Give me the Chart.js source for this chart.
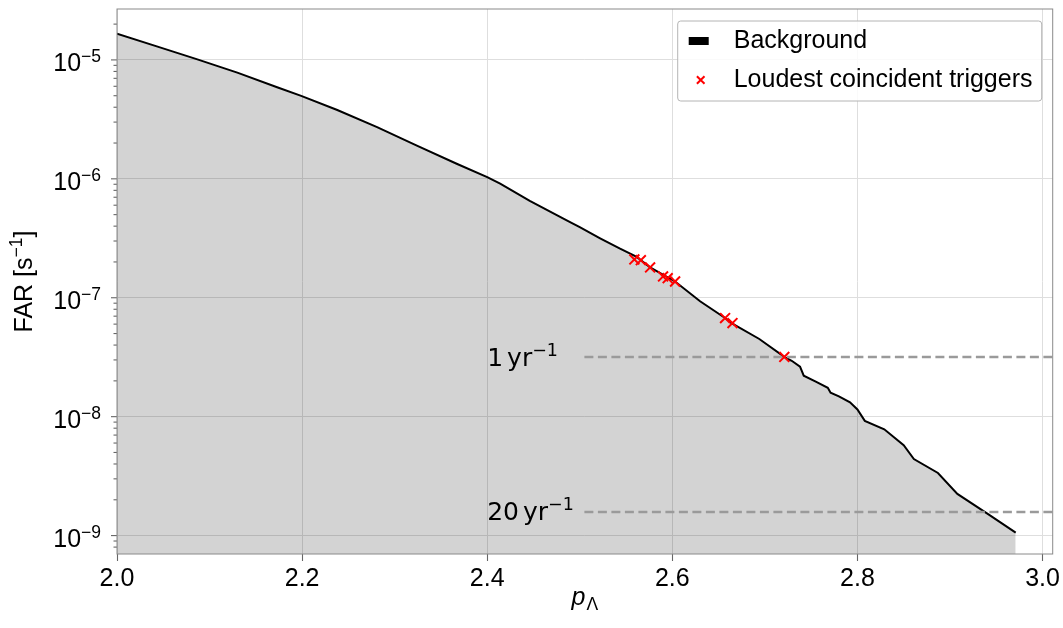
<!DOCTYPE html>
<html>
<head>
<meta charset="utf-8">
<script src="https://cdn.jsdelivr.net/npm/chart.js@4.4.0/dist/chart.umd.min.js"></script>
<style>
html, body { margin: 0; padding: 0; background: #fff; }
#wrap { width: 1063px; height: 628px; }
</style>
</head>
<body>
<div id="wrap"><canvas id="farChart" width="1063" height="628"></canvas></div>
<script>
// Valori
const bgStat = [2.000, 2.043, 2.086, 2.130, 2.173, 2.199, 2.238, 2.281, 2.324, 2.367, 2.400,
    2.414, 2.446, 2.489, 2.500, 2.522, 2.543, 2.561, 2.576, 2.603, 2.630, 2.657,
    2.664, 2.694, 2.721, 2.729, 2.738, 2.742, 2.755, 2.768, 2.771, 2.780, 2.792, 2.800,
    2.808, 2.829, 2.850, 2.861, 2.887, 2.908, 2.942, 2.971];
const bgFar = [1.66e-5, 1.30e-5, 1.015e-5, 7.82e-6, 5.89e-6, 4.98e-6, 3.79e-6, 2.72e-6, 1.90e-6, 1.34e-6, 1.035e-6,
    9.12e-7, 6.52e-7, 4.35e-7, 3.92e-7, 3.16e-7, 2.60e-7, 2.22e-7, 1.80e-7, 1.37e-7, 9.35e-8, 6.75e-8,
    6.12e-8, 4.50e-8, 3.18e-8, 2.95e-8, 2.63e-8, 2.21e-8, 1.97e-8, 1.75e-8, 1.59e-8, 1.48e-8, 1.32e-8, 1.15e-8,
    9.22e-9, 7.83e-9, 5.75e-9, 4.40e-9, 3.36e-9, 2.24e-9, 1.50e-9, 1.06e-9];

const trigStat = [2.559, 2.566, 2.576, 2.590, 2.595, 2.603, 2.657, 2.665, 2.721];
const trigFar = [2.10e-7, 2.07e-7, 1.80e-7, 1.51e-7, 1.46e-7, 1.37e-7, 6.75e-8, 6.12e-8, 3.18e-8];

// Soglie 1/anno e 1/20 anni
const rateNames = ['1', '20'];
const rateValues = [3.17e-8, 1.58e-9];
const rateStart = 2.505;
const rateTextX = 2.40;

// Assi
const xTicks = [2.0, 2.2, 2.4, 2.6, 2.8, 3.0];
const yExponents = [-10, -9, -8, -7, -6, -5];
const yMantissas = [1, 2, 3, 4, 5, 6, 7, 8, 9];
const xMin = 2.0, xMax = 3.011;
const yMin = 7.03e-10, yMax = 2.68e-5;

const SANS = '"Liberation Sans", Arial, Helvetica, sans-serif';
const MATH = '"DejaVu Sans", sans-serif';
const FS = 25;
const SUB = 17.5;

Chart.defaults.font.family = SANS;
Chart.defaults.color = '#000';

function toPoints(xs, ys) {
    return xs.map((x, i) => ({ x: x, y: ys[i] }));
}

// Disegna le decorazioni stile matplotlib
const decorPlugin = {
    id: 'decor',
    afterDraw(chart) {
        const ctx = chart.ctx;
        const area = chart.chartArea;
        const ys = chart.scales.y;
        const xs = chart.scales.x;
        ctx.save();

        // Tacche e etichette asse y
        ctx.strokeStyle = '#666';
        ctx.lineWidth = 1.1;
        ctx.fillStyle = '#000';
        ys.ticks.forEach(t => {
            const py = ys.getPixelForValue(t.value);
            if (py < area.top - 0.5 || py > area.bottom + 0.5) return;
            const len = t.major ? 6 : 3.5;
            ctx.beginPath();
            ctx.moveTo(area.left - len, py);
            ctx.lineTo(area.left, py);
            ctx.stroke();
            if (t.major) {
                const exp = Math.round(Math.log10(t.value));
                const sup = '\u2212' + Math.abs(exp);
                const right = area.left - 16;
                ctx.textAlign = 'right';
                ctx.textBaseline = 'alphabetic';
                ctx.font = SUB + 'px ' + SANS;
                const supW = ctx.measureText(sup).width;
                ctx.fillText(sup, right, py + 2.5);
                ctx.font = FS + 'px ' + SANS;
                ctx.fillText('10', right - supW, py + 11.5);
            }
        });

        // Cornice
        ctx.strokeStyle = '#8a8a8a';
        ctx.lineWidth = 1;
        ctx.strokeRect(area.left, area.top, area.right - area.left, area.bottom - area.top);

        // Titolo asse x: p_Lambda
        const cx = (area.left + area.right) / 2;
        ctx.textAlign = 'left';
        ctx.textBaseline = 'alphabetic';
        ctx.font = 'italic ' + FS + 'px ' + SANS;
        const pW = ctx.measureText('p').width;
        ctx.font = SUB + 'px ' + SANS;
        const lW = ctx.measureText('\u039B').width;
        const x0 = cx - (pW + lW + 1) / 2;
        ctx.font = 'italic ' + FS + 'px ' + SANS;
        ctx.fillText('p', x0, area.bottom + 51);
        ctx.font = SUB + 'px ' + SANS;
        ctx.fillText('\u039B', x0 + pW + 1, area.bottom + 56);

        // Titolo asse y: FAR [s^-1]
        ctx.save();
        ctx.translate(32, (area.top + area.bottom) / 2);
        ctx.rotate(-Math.PI / 2);
        ctx.font = FS + 'px ' + SANS;
        const a = 'FAR [s', c = ']';
        const aW = ctx.measureText(a).width, cW = ctx.measureText(c).width;
        ctx.font = SUB + 'px ' + SANS;
        const bW = ctx.measureText('\u22121').width;
        let tx = -(aW + bW + cW) / 2;
        ctx.font = FS + 'px ' + SANS;
        ctx.fillText(a, tx, 0);
        ctx.font = SUB + 'px ' + SANS;
        ctx.fillText('\u22121', tx + aW, -10);
        ctx.font = FS + 'px ' + SANS;
        ctx.fillText(c, tx + aW + bW, 0);
        ctx.restore();

        // Etichette delle soglie
        rateValues.forEach((v, i) => {
            const py = ys.getPixelForValue(v);
            let px = xs.getPixelForValue(rateTextX);
            ctx.font = FS + 'px ' + MATH;
            ctx.fillStyle = '#000';
            ctx.fillText(rateNames[i], px, py + 8.5);
            px += ctx.measureText(rateNames[i]).width + 4;
            ctx.fillText('yr', px, py + 8.5);
            px += ctx.measureText('yr').width;
            ctx.font = SUB + 'px ' + MATH;
            ctx.fillText('\u22121', px, py - 1.5);
        });

        // Legenda
        const lw = 364, lh = 80;
        const lx = area.right - 11 - lw, ly = area.top + 12;
        ctx.beginPath();
        ctx.roundRect(lx, ly, lw, lh, 3);
        ctx.fillStyle = 'rgba(255,255,255,0.85)';
        ctx.fill();
        ctx.strokeStyle = '#b4b4b4';
        ctx.lineWidth = 1;
        ctx.stroke();
        const dsBg = chart.data.datasets[3], dsTr = chart.data.datasets[0];
        ctx.fillStyle = dsBg.borderColor;
        ctx.fillRect(lx + 11, ly + 16, 20, 8);
        ctx.strokeStyle = dsTr.borderColor;
        ctx.lineWidth = 2;
        const mx = lx + 23, my = ly + 59, h = 3.8;
        ctx.beginPath();
        ctx.moveTo(mx - h, my - h); ctx.lineTo(mx + h, my + h);
        ctx.moveTo(mx - h, my + h); ctx.lineTo(mx + h, my - h);
        ctx.stroke();
        ctx.fillStyle = '#000';
        ctx.font = FS + 'px ' + SANS;
        ctx.textBaseline = 'middle';
        ctx.fillText(dsBg.label, lx + 56, ly + 20);
        ctx.fillText(dsTr.label, lx + 56, ly + 59);

        ctx.restore();
    }
};

const rateSets = rateValues.map(v => ({
    type: 'line',
    label: 'rate',
    data: [{ x: rateStart, y: v }, { x: xMax, y: v }],
    borderColor: '#9a9a9a',
    borderWidth: 2.5,
    borderDash: [9, 4.5],
    pointRadius: 0,
    fill: false
}));

const ctx = document.getElementById('farChart').getContext('2d');
const farChart = new Chart(ctx, {
    type: 'scatter',
    data: {
        datasets: [{
            label: 'Loudest coincident triggers',
            data: toPoints(trigStat, trigFar),
            pointStyle: 'crossRot',
            pointRadius: 7,
            borderColor: '#ff0000',
            backgroundColor: '#ff0000',
            borderWidth: 2
        },
        rateSets[0],
        rateSets[1],
        {
            type: 'line',
            label: 'Background',
            data: toPoints(bgStat, bgFar),
            borderColor: '#000000',
            backgroundColor: 'rgba(0,0,0,0.173)',
            borderWidth: 2,
            pointRadius: 0,
            tension: 0,
            fill: 'start'
        }]
    },
    options: {
        responsive: false,
        animation: false,
        events: [],
        devicePixelRatio: 1,
        layout: { padding: { top: 6, right: 9, left: 0, bottom: 0 } },
        plugins: {
            legend: { display: false },
            tooltip: { enabled: false }
        },
        scales: {
            x: {
                type: 'linear',
                min: xMin,
                max: xMax,
                afterBuildTicks: scale => { scale.ticks = xTicks.map(v => ({ value: v })); },
                afterFit: scale => { scale.height = 74; },
                border: { display: false },
                grid: {
                    color: '#dedede',
                    lineWidth: 1,
                    tickLength: 7,
                    tickColor: '#666',
                    tickWidth: 1.1
                },
                ticks: {
                    autoSkip: false,
                    maxRotation: 0,
                    padding: 3,
                    color: '#000',
                    font: { size: FS, family: SANS },
                    callback: v => v.toFixed(1)
                }
            },
            y: {
                type: 'logarithmic',
                min: yMin,
                max: yMax,
                afterBuildTicks: scale => {
                    const t = [];
                    yExponents.forEach(e => {
                        yMantissas.forEach(m => {
                            const v = m * Math.pow(10, e);
                            if (v >= yMin && v <= yMax) t.push({ value: v, major: m === 1 });
                        });
                    });
                    scale.ticks = t;
                },
                afterFit: scale => { scale.width = 117; },
                border: { display: false },
                grid: {
                    drawTicks: false,
                    lineWidth: 1,
                    color: c => (c.tick && c.tick.major) ? '#dedede' : 'rgba(0,0,0,0)'
                },
                ticks: { display: false, autoSkip: false }
            }
        }
    },
    plugins: [decorPlugin]
});
</script>
</body>
</html>
